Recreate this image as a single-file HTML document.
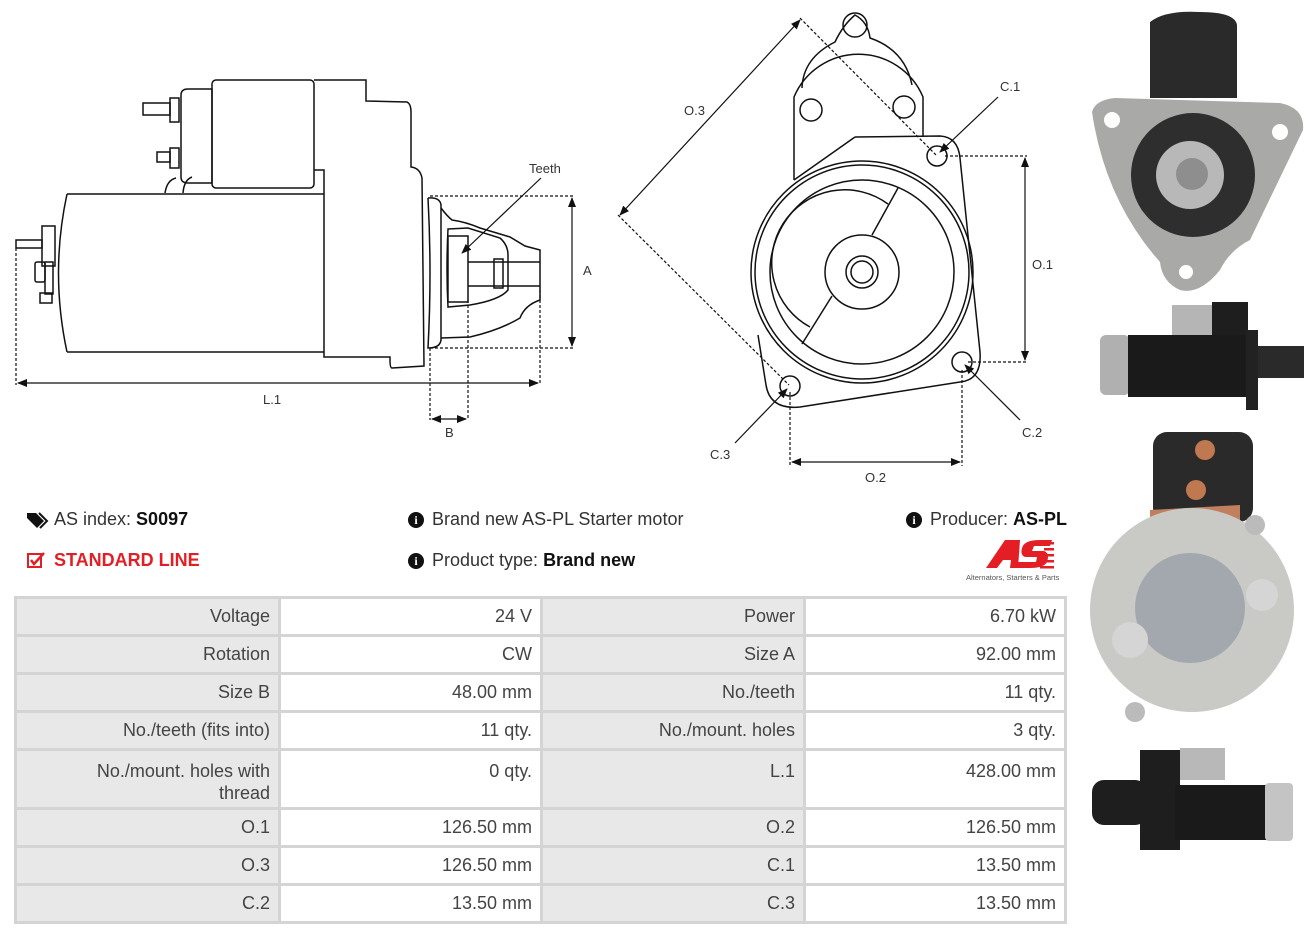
<!DOCTYPE html>
<html><head><meta charset="utf-8">
<style>
body{margin:0;width:1316px;height:936px;background:#fff;position:relative;overflow:hidden;font-family:"Liberation Sans",sans-serif;}
svg{position:absolute;left:0;top:0}
.t{position:absolute;font-size:18px;color:#333;white-space:nowrap}
.t b{color:#111}
table{position:absolute;left:14px;top:596px;border-collapse:collapse;width:1050px;font-size:18px;color:#444;table-layout:fixed}
td{border:3px solid #d4d4d4;text-align:right;padding:0 8px;height:38px;vertical-align:middle;box-sizing:border-box}
td.l{background:#e8e8e8}
tr.tall td{height:59px;vertical-align:top;padding-top:9px;line-height:22px}
.ic{display:inline-block;width:16px;height:16px;border-radius:50%;background:#111;color:#fff;font-size:12px;font-weight:bold;text-align:center;line-height:16px;font-family:"Liberation Serif",serif;margin-right:8px;vertical-align:1px}
</style></head><body>
<svg width="1316" height="936" viewBox="0 0 1316 936">
<defs>
<marker id="a" markerWidth="10" markerHeight="8" refX="9" refY="4" orient="auto-start-reverse" markerUnits="userSpaceOnUse"><path d="M0,0L10,4L0,8z" fill="#111"/></marker>
</defs>
<g fill="none" stroke="#111" stroke-width="1.5">
<path d="M181,95 Q181,89 188,89 L212,89 L212,183 L188,183 Q181,183 181,177Z"/>
<rect x="212" y="80" width="102" height="108" rx="4"/>
<rect x="170" y="98" width="9" height="24"/><rect x="143" y="103" width="27" height="12"/>
<rect x="170" y="148" width="9" height="20"/><rect x="157" y="152" width="13" height="10"/>
<path d="M314,80 L366,80 L366,101 L407,102 Q411,104 411,112 L411,167 Q420,168 422,178 L424,366 L392,368 Q390,368 390,360 L390,357 L324,357 L324,170 L314,170"/>
<path d="M165,193 Q167,180 176,178 M183,193 Q184,180 192,177"/>
<path d="M67,194 L324,194 M67,352 L324,352 M67,194 Q50,273 67,352"/>
<rect x="42" y="226" width="13" height="40"/><rect x="16" y="240" width="26" height="8"/>
<rect x="35" y="262" width="10" height="20" rx="2"/><rect x="45" y="262" width="8" height="32"/><rect x="40" y="293" width="12" height="10"/>
<path d="M428,198 Q440,197 441,205 L441,340 Q440,348 428,348 Q432,273 428,198"/>
<path d="M441,208 Q447,216 452,220 Q466,222 480,228 L510,237 L525,246 L540,250 L540,300 Q525,305 520,318 Q500,330 470,337 L441,338"/>
<path d="M448,229 L468,228 L500,238 Q508,245 508,255 L508,290 Q500,300 470,305 L448,307 Q446,270 448,229Z"/>
<rect x="448" y="236" width="20" height="66"/>
<path d="M468,262 L540,262 M468,286 L540,286"/>
<rect x="494" y="259" width="9" height="29"/>
<path d="M855,137 L940,136 Q958,137 960,158 L980,352 Q982,380 960,382 L800,407 Q770,410 766,385 L758,335"/>
<path d="M794,180 L855,137"/>
<path d="M794,180 L794,97 A70,70 0 0 1 923,97 L923,137"/>
<path d="M802,88 Q803,58 835,42 Q843,25 855,15 Q868,22 870,38 Q905,50 912,85"/>
<circle cx="855" cy="25" r="12"/><circle cx="811" cy="110" r="11"/><circle cx="904" cy="107" r="11"/>
<circle cx="937" cy="156" r="10"/><circle cx="962" cy="362" r="10"/><circle cx="790" cy="386" r="10"/>
<circle cx="862" cy="272" r="111"/><circle cx="862" cy="272" r="107"/><circle cx="862" cy="272" r="92"/>
<path d="M888,204 A73,73 0 1 0 810,327"/>
<circle cx="862" cy="272" r="37"/><circle cx="862" cy="272" r="16"/><circle cx="862" cy="272" r="11"/>
<path d="M898,188 L872,235 M832,296 L802,344"/>
</g>
<g fill="none" stroke="#111" stroke-width="1.2" stroke-dasharray="3,2">
<path d="M430,196 L575,196 M430,348 L575,348 M16,248 L16,385 M540,290 L540,385 M430,348 L430,420 M468,300 L468,420"/>
<path d="M800,18 L937,156 M618,215 L789,385 M945,156 L1027,156 M968,362 L1027,362 M790,392 L790,466 M962,370 L962,466"/>
</g>
<g stroke="#111" stroke-width="1.2" fill="none">
<path d="M572,198 L572,346" marker-start="url(#a)" marker-end="url(#a)"/>
<path d="M18,383 L538,383" marker-start="url(#a)" marker-end="url(#a)"/>
<path d="M432,419 L466,419" marker-start="url(#a)" marker-end="url(#a)"/>
<path d="M541,178 L462,253" marker-end="url(#a)"/>
<path d="M620,215 L800,20" marker-start="url(#a)" marker-end="url(#a)"/>
<path d="M1025,158 L1025,360" marker-start="url(#a)" marker-end="url(#a)"/>
<path d="M792,462 L960,462" marker-start="url(#a)" marker-end="url(#a)"/>
<path d="M998,97 L940,152" marker-end="url(#a)"/>
<path d="M1020,420 L965,365" marker-end="url(#a)"/>
<path d="M735,443 L787,389" marker-end="url(#a)"/>
</g>
<g font-family="Liberation Sans,sans-serif" font-size="13" fill="#333">
<text x="529" y="173">Teeth</text><text x="583" y="275">A</text><text x="263" y="404">L.1</text><text x="445" y="437">B</text>
<text x="684" y="115">O.3</text><text x="1000" y="91">C.1</text><text x="1032" y="269">O.1</text><text x="1022" y="437">C.2</text><text x="710" y="459">C.3</text><text x="865" y="482">O.2</text>
</g>
<path d="M1150,22 Q1165,10 1200,12 Q1235,12 1237,25 L1237,98 L1150,98Z" fill="#2a2a2a"/>
<path d="M1092,112 Q1095,100 1115,98 L1280,103 Q1305,108 1303,130 L1250,240 Q1230,250 1220,270 Q1200,295 1180,290 Q1162,282 1160,262 Q1105,200 1092,112Z" fill="#a9a9a7"/>
<circle cx="1112" cy="120" r="8" fill="#fff"/><circle cx="1280" cy="132" r="8" fill="#fff"/><circle cx="1186" cy="272" r="7" fill="#fff"/>
<circle cx="1193" cy="175" r="62" fill="#2e2e2e"/><circle cx="1190" cy="175" r="34" fill="#b8b8b8"/><circle cx="1192" cy="174" r="16" fill="#8e8e8e"/>
<rect x="1172" y="305" width="45" height="30" fill="#b5b5b5"/><rect x="1212" y="302" width="36" height="34" fill="#1e1e1e"/>
<rect x="1100" y="335" width="30" height="60" rx="6" fill="#b0b0b0"/><rect x="1128" y="335" width="120" height="62" fill="#1a1a1a"/>
<rect x="1246" y="330" width="12" height="80" fill="#222"/><rect x="1258" y="346" width="46" height="32" fill="#2a2a2a"/>
<rect x="1153" y="432" width="100" height="90" rx="14" fill="#2a2a2a"/><circle cx="1205" cy="450" r="10" fill="#c07850"/><circle cx="1196" cy="490" r="10" fill="#c07850"/>
<path d="M1150,510 L1240,505 L1240,520 L1150,520Z" fill="#c08060"/>
<circle cx="1192" cy="610" r="102" fill="#c9c9c6"/>
<circle cx="1190" cy="608" r="55" fill="#a3a8ae"/>
<circle cx="1130" cy="640" r="18" fill="#d5d5d5"/><circle cx="1262" cy="595" r="16" fill="#d5d5d5"/><circle cx="1135" cy="712" r="10" fill="#bbb"/><circle cx="1255" cy="525" r="10" fill="#bbb"/>
<rect x="1140" y="750" width="40" height="100" fill="#1e1e1e"/><rect x="1180" y="748" width="45" height="32" fill="#b8b8b8"/>
<rect x="1092" y="780" width="55" height="45" rx="12" fill="#1e1e1e"/><rect x="1175" y="785" width="92" height="55" fill="#1a1a1a"/><rect x="1265" y="783" width="28" height="58" rx="4" fill="#c4c4c4"/>
<path d="M1005,540 L1020,540 L1018,568 L1010,568 L1011,560 L1003,560 L997,568 L986,568Z" fill="#e31e24"/>
<path d="M1022,548 Q1024,540 1040,540 L1052,540 L1050,546 L1034,546 L1032,551 L1044,551 Q1050,553 1047,562 Q1044,568 1030,568 L1016,568 L1018,562 L1036,562 L1037,557 L1025,557 Q1020,555 1022,548Z" fill="#e31e24"/>
<g fill="#e31e24"><rect x="1040" y="542" width="14" height="2.5"/><rect x="1044" y="548" width="10" height="2.5"/><rect x="1044" y="554" width="10" height="2.5"/><rect x="1042" y="560" width="12" height="2.5"/><rect x="1040" y="566" width="14" height="2.5"/></g>
<text x="966" y="580" font-family="Liberation Sans,sans-serif" font-size="7.5" fill="#555">Alternators, Starters &amp; Parts</text>
<path d="M27,513 L36,513 L44,521 L37,528 L27,518Z" fill="#111"/><path d="M39,513 L47,521 L40,528" fill="none" stroke="#111" stroke-width="2"/>
<rect x="28" y="554" width="13" height="13" fill="none" stroke="#e31e24" stroke-width="2"/><path d="M31,560 L34,564 L44,553" fill="none" stroke="#e31e24" stroke-width="2.5"/>
</svg>
<div class="t" style="left:54px;top:509px">AS index: <b>S0097</b></div>
<div class="t" style="left:54px;top:550px;color:#e31e24;font-weight:bold">STANDARD LINE</div>
<div class="t" style="left:408px;top:509px"><span class="ic">i</span>Brand new AS-PL Starter motor</div>
<div class="t" style="left:408px;top:550px"><span class="ic">i</span>Product type: <b>Brand new</b></div>
<div class="t" style="left:906px;top:509px"><span class="ic">i</span>Producer: <b>AS-PL</b></div>
<table>
<colgroup><col style="width:264px"><col style="width:262px"><col style="width:263px"><col style="width:261px"></colgroup>
<tr><td class="l">Voltage</td><td>24 V</td><td class="l">Power</td><td>6.70 kW</td></tr>
<tr><td class="l">Rotation</td><td>CW</td><td class="l">Size A</td><td>92.00 mm</td></tr>
<tr><td class="l">Size B</td><td>48.00 mm</td><td class="l">No./teeth</td><td>11 qty.</td></tr>
<tr><td class="l">No./teeth (fits into)</td><td>11 qty.</td><td class="l">No./mount. holes</td><td>3 qty.</td></tr>
<tr class="tall"><td class="l" style="padding-left:60px">No./mount. holes with thread</td><td>0 qty.</td><td class="l">L.1</td><td>428.00 mm</td></tr>
<tr><td class="l">O.1</td><td>126.50 mm</td><td class="l">O.2</td><td>126.50 mm</td></tr>
<tr><td class="l">O.3</td><td>126.50 mm</td><td class="l">C.1</td><td>13.50 mm</td></tr>
<tr><td class="l">C.2</td><td>13.50 mm</td><td class="l">C.3</td><td>13.50 mm</td></tr>
</table>
</body></html>
